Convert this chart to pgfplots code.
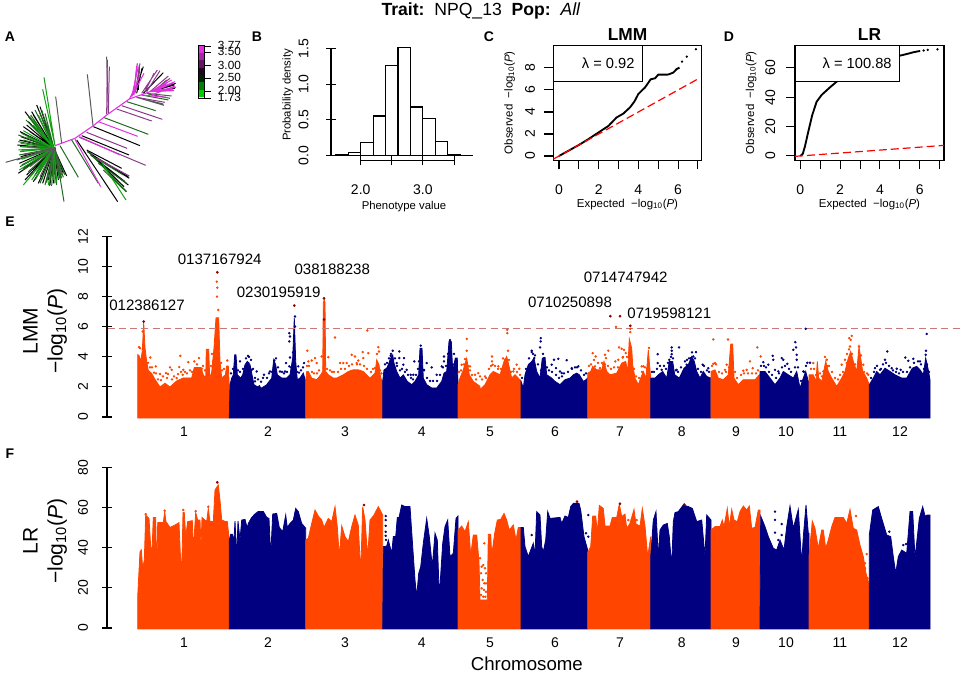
\documentclass[border=0pt]{standalone}
\usepackage{fontspec}
\setmainfont{Liberation Sans}
\usepackage{pgfplots}
\pgfplotsset{compat=1.18}
\definecolor{chrA}{HTML}{FF4500}
\definecolor{chrB}{HTML}{000080}
\definecolor{hit}{HTML}{8B0000}
\definecolor{thr}{HTML}{C87878}
\definecolor{tG}{HTML}{1F6B1F}
\definecolor{tL}{HTML}{12A012}
\definecolor{tP}{HTML}{8B3A8B}
\definecolor{tM}{HTML}{E030E0}
\newcommand{\fs}[1]{\fontsize{#1}{#1}\selectfont}
\newcommand{\mlog}{−log\textsubscript{10}(\textit{P})}
\pgfplotsset{
  rbase/.style={
    scale only axis, clip=false,
    /pgf/number format/assume math mode=true,
    tick align=outside, major tick length=6.75pt,
    every tick/.style={black, line width=0.8pt},
    axis line style={black, line width=0.8pt, -},
    every non boxed x axis/.append style={x axis line style=-},
    every non boxed y axis/.append style={y axis line style=-},
    tick label style={font=\fs{10.5pt}},
    yticklabel style={rotate=90, anchor=south},
    ylabel style={font=\fs{8.5pt}, anchor=center},
    xlabel style={font=\fs{8.5pt}, anchor=center},
  },
  qq/.style={rbase,
    width=111.3pt, height=86.25pt,
    axis lines=box, xtick pos=bottom, ytick pos=left,
    xtick={0,...,7}, xticklabels={0,,2,,4,,6,},
    xticklabel shift=8.25pt,
    xlabel={Expected\ \ \mlog}, ylabel={Observed\ \ \mlog},
    xlabel style={font=\fs{8.6pt}, at={(axis description cs:0.5,-0.295)}},
    ylabel style={font=\fs{8.6pt}, at={(axis description cs:-0.226,0.5)}},
    every axis title shift=0pt,
    title style={font=\bfseries\fs{13pt}, at={(axis description cs:0.5,1.09)}, anchor=center},
  },
  manh/.style={rbase,
    width=641.25pt, xmin=107, xmax=962,
    axis lines=left, major tick length=7.5pt,
    x axis line style={draw=none},
    xtick={184,268,345,421.7,490,555,620,681.7,736,786,840,900},
    xticklabels={1,2,3,4,5,6,7,8,9,10,11,12},
    xtick style={draw=none},
    yticklabel shift=7pt,
    ylabel style={font=\fs{15.75pt}, align=center},
  },
  chrO/.style={fill=chrA, draw=chrA, line width=0.6pt},
  chrN/.style={fill=chrB, draw=chrB, line width=0.6pt},
  dotO/.style={only marks, mark=*, mark size=0.7pt, color=chrA},
  dotN/.style={only marks, mark=*, mark size=0.7pt, color=chrB},
  dotH/.style={only marks, mark=*, mark size=0.8pt, color=hit},
  tree/.style={unbounded coords=jump, no marks, line width=0.75pt},
}
\begin{document}
\begin{tikzpicture}[x=0.75pt,y=0.75pt]
\path[use as bounding box] (0,0) rectangle (964,673);

% headings
\node[font=\fs{13.2pt}] at (481,662) {\textbf{Trait:}\ \ NPQ\_13\ \ \textbf{Pop:}\ \ \textit{All}};
\foreach \lab/\lx/\ly in {A/10/636,B/257/636,C/489/636,D/729/636,E/10/451,F/10/219}
  {\node[font=\bfseries\fs{10.5pt}] at (\lx,\ly) {\lab};}

% A: tree and colour key, axis units are 1/3 px
\begin{axis}[at={(0pt,339.75pt)}, anchor=south west, scale only axis, width=195pt, height=165pt,
  hide axis, clip=false, xmin=0, xmax=780, ymin=0, ymax=660, y dir=reverse]
\addplot[tree, color=black] coordinates {
(162,445)(110,315) (nan,nan) (162,445)(95,335) (nan,nan) (162,445)(75,335) (nan,nan) (162,445)(60,395) (nan,nan)
(162,445)(58,420) (nan,nan) (162,445)(62,470) (nan,nan) (162,445)(55,520) (nan,nan) (162,445)(80,525) (nan,nan)
(162,445)(128,550) (nan,nan) (162,445)(150,555) (nan,nan) (162,445)(175,540) (nan,nan) (162,445)(200,528) (nan,nan)
(162,445)(90,395) (nan,nan) (162,445)(120,320) (nan,nan) (162,445)(65,450) (nan,nan) (162,445)(105,525) (nan,nan)
(162,445)(145,540) (nan,nan) (162,445)(80,375) (nan,nan) (280,380)(420,437) (nan,nan) (245,407)(387,465) (nan,nan)
(230,420)(353,605) (nan,nan) (260,450)(365,505) (nan,nan) (262,455)(388,535) (nan,nan) (272,465)(375,545) (nan,nan)
(430,280)(490,218) (nan,nan) (405,275)(430,200) (nan,nan) (460,272)(527,250) (nan,nan)
(162,445)(100,345) (nan,nan) (162,445)(85,365) (nan,nan) (162,445)(70,380) (nan,nan) (162,445)(62,410) (nan,nan)
(162,445)(52,435) (nan,nan) (162,445)(58,490) (nan,nan) (162,445)(68,505) (nan,nan) (162,445)(75,540) (nan,nan)
(162,445)(100,545) (nan,nan) (162,445)(115,550) (nan,nan) (162,445)(160,550) (nan,nan) (162,445)(190,520) (nan,nan)
(285,470)(385,530) (nan,nan) (300,490)(385,555) (nan,nan) (290,480)(372,560) (nan,nan)
(415,270)(418,195) (nan,nan) (410,280)(426,205) (nan,nan) (470,270)(523,255) (nan,nan) (470,275)(525,265)};
\addplot[tree, color=tG] coordinates {
(180,437)(235,532) (nan,nan) (165,440)(192,605) (nan,nan) (162,445)(135,340) (nan,nan) (162,445)(100,360) (nan,nan)
(162,445)(85,350) (nan,nan) (162,445)(55,405) (nan,nan) (162,445)(60,440) (nan,nan) (162,445)(50,480) (nan,nan)
(162,445)(70,510) (nan,nan) (162,445)(90,530) (nan,nan) (162,445)(110,515) (nan,nan) (162,445)(135,555) (nan,nan)
(162,445)(155,558) (nan,nan) (162,445)(190,532) (nan,nan) (162,445)(165,550) (nan,nan) (162,445)(105,330) (nan,nan)
(162,445)(125,540) (nan,nan) (162,445)(178,535) (nan,nan) (162,445)(70,420) (nan,nan) (162,445)(60,500) (nan,nan)
(162,445)(125,330) (nan,nan) (162,445)(140,548) (nan,nan) (310,352)(445,403) (nan,nan) (380,305)(467,332) (nan,nan)
(215,420)(295,550) (nan,nan) (265,455)(380,575) (nan,nan) (425,285)(505,300) (nan,nan)
(162,445)(118,335) (nan,nan) (162,445)(92,345) (nan,nan) (162,445)(78,360) (nan,nan) (162,445)(65,400) (nan,nan)
(162,445)(55,425) (nan,nan) (162,445)(57,465) (nan,nan) (162,445)(65,495) (nan,nan) (162,445)(85,515) (nan,nan)
(162,445)(105,540) (nan,nan) (162,445)(120,550) (nan,nan) (162,445)(148,558) (nan,nan) (162,445)(170,555) (nan,nan)
(162,445)(185,535) (nan,nan) (162,445)(195,525) (nan,nan) (280,470)(370,525) (nan,nan) (295,490)(380,550) (nan,nan)
(310,510)(378,575) (nan,nan) (445,282)(510,295)};
\addplot[tree, color=tL] coordinates {
(165,437)(132,232) (nan,nan) (165,437)(128,268) (nan,nan) (162,445)(100,375) (nan,nan) (162,445)(70,392) (nan,nan)
(162,445)(62,430) (nan,nan) (162,445)(65,478) (nan,nan) (162,445)(70,555) (nan,nan) (162,445)(145,555) (nan,nan)
(162,445)(170,545) (nan,nan) (162,445)(80,410) (nan,nan) (162,445)(60,455) (nan,nan) (162,445)(75,490) (nan,nan)
(162,445)(115,345) (nan,nan) (162,445)(95,540) (nan,nan) (300,480)(378,600) (nan,nan) (162,445)(90,350) (nan,nan)
(162,445)(68,440) (nan,nan) (162,445)(55,450) (nan,nan) (162,445)(58,510) (nan,nan) (162,445)(110,530) (nan,nan) (162,445)(160,540)};
\addplot[tree, color=black!65] coordinates {
(165,445)(17,487) (nan,nan) (185,430)(167,290) (nan,nan) (162,445)(80,440) (nan,nan) (162,445)(70,465) (nan,nan)
(162,445)(90,500) (nan,nan) (162,445)(120,530) (nan,nan) (162,445)(185,525) (nan,nan) (162,445)(150,520) (nan,nan)
(279,377)(262,223) (nan,nan) (325,340)(320,170) (nan,nan) (410,292)(492,316) (nan,nan) (440,280)(515,288) (nan,nan) (410,292)(490,312)};
\addplot[tree, color=tP] coordinates {
(325,340)(328,200) (nan,nan) (350,327)(455,363) (nan,nan) (260,397)(381,445) (nan,nan) (238,412)(437,496) (nan,nan)
(365,317)(487,358) (nan,nan) (400,285)(412,190) (nan,nan) (425,280)(472,210) (nan,nan) (450,275)(505,228) (nan,nan)
(410,292)(495,307) (nan,nan) (320,343)(322,180) (nan,nan) (290,475)(388,528) (nan,nan)
(405,280)(420,190) (nan,nan) (435,275)(462,220) (nan,nan) (440,275)(480,212) (nan,nan) (470,265)(510,235) (nan,nan) (460,275)(500,240)};
\addplot[tree, color=tM] coordinates {
(295,365)(413,409) (nan,nan) (225,418)(302,560) (nan,nan) (238,410)(360,465) (nan,nan) (395,290)(432,220) (nan,nan)
(450,275)(525,245) (nan,nan) (450,275)(528,262) (nan,nan) (450,275)(522,272) (nan,nan) (450,275)(515,240) (nan,nan)
(425,285)(500,292) (nan,nan) (395,290)(415,200) (nan,nan) (402,285)(410,198) (nan,nan) (465,272)(520,250) (nan,nan)
(465,275)(518,268) (nan,nan) (480,265)(505,245) (nan,nan) (455,285)(525,258)};
\addplot[no marks, color=tM, line width=0.8pt] coordinates {(165,437)(225,415)(280,377)(323,343)(388,297)(405,265)(420,225)};
\addplot[no marks, color=tM, line width=0.8pt] coordinates {(388,297)(450,275)};
% colour key
\addplot[fill=tM, draw=none] coordinates {(594,137)(614,137)(614,159)(594,159)} --cycle;
\addplot[fill=black!25!tM, draw=none] coordinates {(594,159)(614,159)(614,181)(594,181)} --cycle;
\addplot[fill=black!55!tM, draw=none] coordinates {(594,181)(614,181)(614,203)(594,203)} --cycle;
\addplot[fill=black!85!tM, draw=none] coordinates {(594,203)(614,203)(614,225)(594,225)} --cycle;
\addplot[fill=black!85!green, draw=none] coordinates {(594,225)(614,225)(614,247)(594,247)} --cycle;
\addplot[fill=black!50!green, draw=none] coordinates {(594,247)(614,247)(614,269)(594,269)} --cycle;
\addplot[fill=black!20!green, draw=none] coordinates {(594,269)(614,269)(614,291)(594,291)} --cycle;
\addplot[draw=black, line width=0.7pt, no marks] coordinates {(594,137)(614,137)(614,294)(594,294)(594,137)};
\addplot[tree, color=black, line width=0.7pt] coordinates {
(614,140)(632,140) (nan,nan) (614,158)(632,158) (nan,nan) (614,197)(632,197) (nan,nan)
(614,236)(632,236) (nan,nan) (614,275)(632,275) (nan,nan) (614,294)(632,294)};
\node[anchor=west, inner sep=0pt, font=\fs{8.85pt}] at (axis cs:653,135) {3.77};
\node[anchor=west, inner sep=0pt, font=\fs{8.85pt}] at (axis cs:653,155) {3.50};
\node[anchor=west, inner sep=0pt, font=\fs{8.85pt}] at (axis cs:653,195) {3.00};
\node[anchor=west, inner sep=0pt, font=\fs{8.85pt}] at (axis cs:653,233) {2.50};
\node[anchor=west, inner sep=0pt, font=\fs{8.85pt}] at (axis cs:653,270) {2.00};
\node[anchor=west, inner sep=0pt, font=\fs{8.85pt}] at (axis cs:653,293) {1.73};
\end{axis}

% B: histogram
\begin{axis}[rbase, at={(270.525pt,387.975pt)}, anchor=south west, width=70pt, height=80.55pt,
  xmin=2, xmax=3.5, ymin=0, ymax=1.5,
  axis lines=left, axis x line shift=3.75pt, axis y line shift=22.3pt,
  major tick length=7pt, xticklabel shift=11.25pt, yticklabel shift=9.75pt,
  xtick={2,2.5,3,3.5}, xticklabels={2.0,,3.0,},
  ytick={0,0.5,1,1.5}, yticklabels={0.0,0.5,1.0,1.5},
  xlabel={Phenotype value}, ylabel={Probability density},
  xlabel style={at={(axis description cs:0.464,-0.478)}},
  ylabel style={at={(axis description cs:-0.782,0.565)}}]
\addplot[ybar interval, fill=white, draw=black, line width=0.85pt] coordinates {
(1.6,0.015) (1.8,0.04) (2.0,0.19) (2.2,0.555) (2.4,1.26) (2.6,1.505) (2.8,0.68) (3.0,0.517)
(3.2,0.196) (3.4,0.01) (3.6,0.005) (3.8,0.005)};
\end{axis}

% C: QQ LMM
\begin{axis}[qq, at={(414.975pt,384.525pt)}, anchor=south west, title={LMM}, yticklabel shift=3.5pt,
  xmin=-0.286, xmax=7.19, ymin=-0.39, ymax=10.06, ytick={0,2,4,6,8}]
\addplot[no marks, black, line width=1.4pt] coordinates {
(0,0)(0.5,0.5)(1,1)(1.5,1.55)(2,2.15)(2.49,2.73)(2.9,3.5)(3.24,3.85)(3.58,4.42)(3.8,4.95)(4,5.64)(4.34,6.24)
(4.62,6.97)(4.84,7.06)(5,7.39)(5.5,7.4)(5.76,7.58)(5.93,7.9)(6.07,8.03)};
\addplot[only marks, mark=*, mark size=0.65pt, black] coordinates {(6.2,8.58)(6.44,9.03)(6.9,9.7)};
\addplot[no marks, red, line width=0.9pt, dash pattern=on 6pt off 3pt] coordinates {(-0.286,-0.286)(7.05,7.05)};
\node[draw=black, line width=0.7pt, fill=white, inner sep=0pt, anchor=north west, minimum width=66.75pt, minimum height=26.8pt]
  at (rel axis cs:0,1) {};
\node[font=\fs{11pt}] at (rel axis cs:0.37,0.84) {λ = 0.92};
\end{axis}

% D: QQ LR
\begin{axis}[qq, at={(596.25pt,384.525pt)}, anchor=south west, width=111.75pt, title={LR}, yticklabel shift=4.5pt,
  xmin=-0.268, xmax=7.22, ymin=-2.95, ymax=75.45, ytick={0,20,40,60}]
\addplot[no marks, black, line width=1.4pt] coordinates {
(0,0)(0.12,1.4)(0.23,6.4)(0.4,16.6)(0.6,28)(0.82,37)(1.07,41.6)(1.49,46.8)(1.83,50.7)(2.5,56)(3.5,62)(4.5,67)
(5.01,68.4)(5.35,69.5)(5.68,70.7)(6.02,71.6)};
\addplot[only marks, mark=*, mark size=0.65pt, black] coordinates {(6.2,71.9)(6.4,72.3)(6.89,72.7)};
\addplot[no marks, red, line width=0.9pt, dash pattern=on 6pt off 3pt] coordinates {(-0.268,-0.268)(7.22,7.22)};
\node[draw=black, line width=0.7pt, fill=white, inner sep=0pt, anchor=north west, minimum width=78pt, minimum height=26.8pt]
  at (rel axis cs:0,1) {};
\node[font=\fs{11pt}] at (rel axis cs:0.417,0.84) {λ = 100.88};
\end{axis}

% E: Manhattan LMM (x is genome position on the plot's scale)
\begin{axis}[manh, at={(80.25pt,192pt)}, anchor=south west, height=135.2pt,
  ymin=0, ymax=12, ytick={0,2,...,12},
  ylabel={LMM\\[3pt]\mlog},
  ylabel style={at={(axis description cs:-0.0725,0.477)}}]
\addplot[chrO] coordinates {(137.7,-0.07)(137.7,4.15)(139,4.1)(140.7,3.7)(142.3,4.4)(143.7,6.3)(145,4.6)(146.7,3.7)(148.3,3.1)(151.7,2.9)(155,2.5)(160,2.0)(165,2.25)(170,2.0)(176.7,2.4)(183.3,2.6)(191.7,2.6)(194.3,3.3)(201,3.3)(203.3,2.8)(205.7,2.6)(206.3,4.5)(208.7,4.5)(209.7,2.6)(211.7,3.0)(214,4.6)(216,6.6)(218.7,6.6)(220,3.7)(221.7,2.6)(225.3,2.8)(226.7,3.4)(228.3,3.4)(229.3,2.0)(229.3,-0.07)} --cycle;
\addplot[chrN] coordinates {(229.3,-0.07)(230,2.15)(231.7,2.59)(233.3,2.81)(234.7,4.14)(236,4.14)(237.3,2.81)(240.7,2.59)(242.7,2.81)(245,3.48)(247.3,3.7)(250,3.48)(252,2.81)(254,2.15)(256.7,2.04)(261.7,1.93)(266.7,2.15)(271.7,2.59)(273.7,3.81)(275.7,3.48)(277.3,2.81)(281.7,2.59)(286.7,2.59)(290,2.81)(292.7,3.92)(294.3,6.58)(295.7,3.7)(297.3,2.48)(300,2.59)(303.3,2.92)(305.7,2.37)(305.7,-0.07)} --cycle;
\addplot[chrO] coordinates {(305.7,-0.07)(305.7,2.37)(306.7,3.03)(308.3,3.03)(311.7,2.59)(316.7,2.48)(320.7,2.81)(322.7,3.03)(323.3,7.6)(324.3,7.8)(325,7.6)(325.7,3.03)(328.3,2.81)(333.3,2.59)(336.7,2.59)(343.3,2.81)(348.3,3.03)(353.3,3.14)(358.3,3.14)(363.3,3.03)(366.7,2.81)(370,2.59)(375,2.92)(376.7,3.81)(379,3.48)(380.7,2.59)(382.7,2.37)(382.7,-0.07)} --cycle;
\addplot[chrN] coordinates {(382.7,-0.07)(382.7,2.37)(384,3.14)(386.7,3.25)(388.3,3.48)(390.7,3.92)(392.7,4.14)(394,3.59)(396.7,3.03)(400,2.59)(403.3,2.81)(407.3,2.37)(411.7,2.15)(415,2.37)(418.7,2.81)(420,4.58)(422,4.58)(423.3,2.59)(426.7,2.15)(431.7,1.93)(436.7,1.93)(441.7,2.37)(444,2.92)(446.7,3.03)(449,5.03)(451.3,5.03)(452.7,3.03)(455.3,3.92)(457.3,3.92)(458,2.15)(458,-0.07)} --cycle;
\addplot[chrO] coordinates {(458,-0.07)(458,2.15)(460,2.59)(463.3,3.14)(466.7,3.92)(469.3,2.81)(473.3,2.37)(480,2.04)(480,1.81)(485,2.15)(490,2.81)(493.3,3.03)(496.7,2.92)(500,2.81)(504,3.7)(506.7,4.03)(508.7,3.48)(511.7,2.59)(515,2.81)(518.3,2.59)(521,2.37)(521,-0.07)} --cycle;
\addplot[chrN] coordinates {(521,-0.07)(521,2.37)(523.3,1.93)(525,2.81)(528.3,3.48)(531.7,3.7)(534,3.92)(536.7,3.03)(540,2.59)(542.3,3.92)(545,3.96)(546.7,2.81)(551.7,2.59)(555,2.37)(560,2.15)(565,2.48)(570,2.59)(573.3,2.81)(576.7,2.92)(579.3,2.81)(583.3,2.37)(586,2.48)(587.7,2.59)(587.7,-0.07)} --cycle;
\addplot[chrO] coordinates {(587.7,-0.07)(587.7,2.92)(590.7,3.03)(592.7,3.37)(596.7,3.14)(601.7,3.14)(604,3.7)(606.7,3.03)(610,2.81)(616.7,2.92)(621.7,3.59)(625.7,3.7)(627.7,3.03)(629.3,5.2)(631.7,4.58)(632.7,3.48)(635,2.59)(638.3,2.15)(640.7,2.59)(643.3,3.03)(646,2.59)(648.3,4.47)(650.7,2.59)(650.7,-0.07)} --cycle;
\addplot[chrN] coordinates {(650.7,-0.07)(650.7,2.59)(655,2.59)(658.3,2.81)(662.7,3.03)(666.7,2.59)(669.3,3.7)(672.7,3.7)(674.7,2.81)(679.3,2.59)(684,3.25)(688.3,3.48)(691.7,4.03)(694.3,3.7)(696.7,3.03)(700,2.59)(703.3,3.03)(706.7,2.7)(710.7,2.59)(710.7,-0.07)} --cycle;
\addplot[chrO] coordinates {(711,-0.07)(711,3.03)(715,3.14)(718.3,2.59)(723.3,2.48)(728.3,2.81)(730.7,4.85)(732.7,4.85)(734,2.59)(738.3,2.15)(743.3,2.48)(750,2.48)(755,2.48)(759.3,2.81)(760,2.59)(760,-0.07)} --cycle;
\addplot[chrN] coordinates {(760,-0.07)(760,3.03)(765,3.03)(770,2.59)(775,2.15)(780,2.59)(783.3,3.03)(788.3,2.81)(793.3,2.59)(796.7,3.03)(800,1.93)(803.3,2.59)(805.7,3.03)(808.3,2.37)(809,2.37)(809,-0.07)} --cycle;
\addplot[chrO] coordinates {(809,-0.07)(809,2.81)(810.7,2.81)(813.3,2.81)(816,2.37)(817.3,3.7)(818.7,2.59)(821.7,2.37)(825.7,3.7)(828.3,3.03)(831.7,2.59)(836.7,2.04)(841.7,2.59)(845,3.03)(848.3,3.92)(850.7,4.36)(853.3,3.7)(856.7,3.03)(859,4.69)(860.7,3.92)(862.7,3.03)(866.7,2.59)(869.3,2.15)(869.3,-0.07)} --cycle;
\addplot[chrN] coordinates {(869.3,-0.07)(869.3,2.15)(873.3,2.59)(876.7,3.03)(880,2.81)(885,3.25)(890,3.03)(895,2.81)(901.7,2.59)(906.7,2.59)(912.3,3.25)(916.7,3.37)(920,3.14)(923.3,2.81)(925.7,3.92)(928.3,3.14)(930,2.48)(930,-0.07)} --cycle;
\addplot[dotO] coordinates {(142.7,5.69)(140,4.58)(139,4.65)(150.3,3.96)(155.7,3.37)(160,2.86)(166,2.92)(170,3.3)(171.7,3.14)(168,2.86)(180.3,4.07)(179.3,3.32)(183.3,3.14)(188.3,3.65)(194.3,3.7)(199,3.92)(201.7,3.21)(227.3,3.76)(176.7,2.59)(182.7,2.81)(216.7,9.01)(217.3,8.61)(217,8.01)(218.3,7.13)
(148,3.6)(150,3.3)(152,3.3)(154,2.95)(156,2.9)(158,2.5)(161,2.45)(163,2.7)(167,2.6)(172,2.5)(174,2.7)(178,2.85)(181,3.0)(185,3.0)(187,2.9)(190,3.1)(192,3.0)(197,3.5)(203,3.4)(205,3.1)(211,3.4)(213,3.7)(212,4.2)(222,3.1)(224,3.2)(221,3.6)
(307.3,4.41)(335,5.29)(367.3,5.76)(328.3,3.98)(321.7,4.03)(315,3.92)(311.7,3.76)(308.3,3.7)(316.7,3.59)(351.7,4.14)(355,4.03)(362.7,4.32)(368.3,4.25)(378.3,4.65)(379,4.36)(340,3.59)(343.3,3.59)(346.7,3.59)(358.3,3.76)(375,3.25)(363.3,3.92)(356.7,3.59)
(307,3.4)(309,3.4)(312,3.0)(314,2.9)(317,2.9)(319,3.1)(327,3.2)(330,3.1)(332,3.0)(334,3)(338,3)(341,3.2)(345,3.2)(349,3.4)(352,3.5)(357,3.5)(360,3.5)(364,3.4)(367,3.2)(371,3.0)(373,3.2)(377,4.2)(380,3.1)(381.5,2.9)
(466.7,5.2)(466.7,4.41)(461.7,3.48)(465,3.85)(470,3.37)(475,2.81)(478.3,2.92)(507.3,5.8)(507.3,5.58)(508,4.41)(492,4.03)(492,3.7)(492.7,3.48)(498.3,3.37)(505,3.81)(503.3,3.25)(516.7,3.48)(519.3,3.21)(513.3,3.03)(485,2.7)(480,2.7)
(459,3.0)(461,3.1)(464,3.5)(468,3.4)(470,3.1)(472,2.8)(476,2.5)(482,2.5)(486,2.6)(489,3.2)(491,3.4)(495,3.4)(498,3.2)(501,3.2)(503,3.9)(509,3.8)(511,3.0)(514,3.2)(517,3.0)(520,2.8)
(616,6.0)(630.3,5.87)(630.3,5.65)(619,4.63)(621.7,4.54)(624,4.47)(625.7,4.25)(622.7,3.96)(618.3,3.81)(615.3,3.7)(608.3,4.41)(605,4.14)(592.7,4.25)(595.7,4.03)(603.3,3.48)(595,3.37)(600,3.25)(643.3,3.37)(641.7,3.37)(606,3.92)
(589,3.4)(591,3.5)(594,3.8)(598,3.6)(602,3.6)(605,3.5)(608,3.4)(611,3.2)(614,3.3)(618,3.3)(623,4.0)(627,4.0)(634,3.2)(636,2.7)(639,2.6)(642,3.0)(645,3.3)(647,3.2)(649,4.6)
(713.3,5.16)(728,5.16)(757.3,4.63)(713.3,3.54)(715,3.59)(726.7,3.48)(725,3.14)(750,3.7)(743.3,3.08)(746.7,3.14)(752.7,3.25)(760.7,4.03)
(712,3.4)(716,3.5)(719,3.0)(722,2.9)(726,3.0)(729,3.3)(735,3.0)(737,2.6)(741,2.8)(744,2.9)(748,2.9)(752,2.9)(756,2.9)(758,3.1)
(850.7,5.14)(851.7,5.4)(849.3,5.25)(850,4.69)(859,4.69)(845,3.81)(846.7,3.59)(841.7,3.48)(863.3,3.48)(813.3,3.59)(826.7,3.81)(827.3,3.37)(868.3,2.81)(823.3,3.03)
(811,3.2)(814,3.2)(816,2.8)(820,2.9)(822,2.7)(825,4.0)(829,3.4)(832,3.0)(835,2.6)(838,2.5)(840,2.8)(843,3.0)(847,4.2)(849,4.5)(852,4.2)(855,3.5)(858,3.5)(861,4.1)(864,3.0)(867,2.9)};
\addplot[dotN] coordinates {(295,6.69)(289.3,5.58)(290,5.36)(289.3,5.03)(295,6.02)(294,5.25)(290,3.96)(289.3,3.37)(286,3.59)(304,3.59)(298.3,3.37)(248,4.07)(251.7,3.14)(256.7,3.03)(248.3,3.59)(264,2.81)(270,3.03)(274.3,3.76)(280,3.03)(285,3.03)(240,3.7)(245,3.03)(255,2.37)(259.3,2.04)
(231,2.9)(233,3.2)(238,3.1)(240,3)(243,3.2)(246,3.9)(249,4.0)(251,3.8)(253,3.2)(255,2.6)(258,2.5)(261,2.35)(263,2.6)(267,2.6)(269,2.9)(272,3.0)(276,3.9)(278,3.3)(282,3.0)(284,2.9)(287,3.0)(291,3.3)(293,4.3)(297,3.0)(299,2.95)(301,3.1)(303,3.3)
(392.7,4.41)(390.7,4.07)(399.3,4.36)(404,3.92)(403.3,3.48)(414.3,3.7)(420.7,4.75)(426.7,3.59)(431.7,3.3)(444,4.03)(444,3.7)(450,5.12)(399.3,3.92)(396.7,3.59)(410.7,2.81)(406.7,3.14)(413.3,2.81)(424,3.14)(436.7,2.81)(441.7,3.37)
(385,3.5)(387,3.6)(389,3.9)(391,4.2)(395,3.9)(397,3.4)(400,3.1)(402,3.2)(405,3.0)(408,2.8)(411,2.6)(413,2.5)(416,2.8)(418,3.2)(419,3.7)(424,3.1)(427,2.6)(430,2.4)(433,2.4)(437,2.4)(440,2.8)(443,3.3)(446,3.4)(448,4.2)(453,3.5)(454,4.2)
(540.7,5.25)(540.7,5.03)(540,4.63)(531.7,4.41)(531.7,4.32)(534.3,3.92)(544.3,3.92)(558.3,3.87)(554,3.81)(566.7,3.78)(556,3.25)(560,3.03)(561.7,2.92)(551.7,3.48)(578.3,3.37)(571.7,3.25)
(522,2.6)(526,3.2)(529,3.9)(533,4.2)(535,4.1)(538,3.5)(541,3.1)(543,4.2)(547,3.3)(549,3.1)(552,3.0)(556,2.8)(559,2.6)(562,2.7)(564,2.9)(568,3.0)(572,3.2)(575,3.3)(577,3.3)(581,3.1)(584,2.8)(586,2.9)
(671.7,4.63)(671.7,4.41)(671.7,4.18)(679,4.63)(657.7,4.18)(657.7,3.59)(669.3,3.81)(696,4.32)(690.7,3.92)(693.3,4.03)(661.7,3.14)(686.7,3.48)(676.7,3.14)(702.7,3.48)(708.3,3.25)
(652,3)(654,3)(657,3.2)(660,3.4)(664,3.4)(666,3.2)(668,3.6)(671,4.0)(673,3.9)(676,3.1)(678,3.0)(681,3.3)(685,3.7)(687,3.8)(689,3.9)(692,4.3)(695,3.9)(698,3.2)(701,3.0)(704,3.4)(707,3.1)(709,3.0)
(805.7,5.87)(795.3,4.98)(796,4.63)(793.3,4.47)(796.7,4.14)(772.7,4.07)(773.3,3.81)(763.3,3.65)(768.3,3.48)(781.7,3.92)(783.3,3.81)(787.3,3.54)(775,3.14)(796.7,3.81)(807.3,3.61)(810,3.61)(803.3,3.03)(784,2.92)(778.3,3.03)
(761,3.4)(764,3.4)(766,3.3)(769,3)(772,2.8)(776,2.6)(779,2.9)(782,3.3)(785,3.4)(789,3.2)(791,3.0)(795,3.3)(798,3.3)(801,2.4)(804,3.0)(806,3.4)
(926.7,5.53)(926,4.41)(925.7,4.14)(887.3,4.36)(885,3.81)(905.3,3.96)(908.3,3.74)(913.3,3.87)(920,3.7)(875,3.25)(880,3.14)(891.7,3.25)(896.7,3.21)(900.7,3.14)
(871,2.6)(874,3.0)(877,3.4)(881,3.2)(883,3.5)(886,3.6)(889,3.4)(893,3.1)(896,3.0)(899,2.9)(903,3.0)(907,3.0)(910,3.3)(914,3.6)(918,3.7)(921,3.5)(924,3.2)(927,3.5)(929,3.0)};
\addplot[dotH] coordinates {(143.7,6.35)(217.3,9.63)(294.3,7.42)(324,7.9)(324,6.49)(610.3,6.71)(620,6.71)(630.3,6.07)};
\addplot[no marks, color=thr, line width=0.9pt, dash pattern=on 5.25pt off 3.2pt] coordinates {(107.5,5.87)(961,5.87)};
\node[font=\fs{11.3pt}] at (axis cs:147,7.42) {012386127};
\node[font=\fs{11.3pt}] at (axis cs:219.7,10.52) {0137167924};
\node[font=\fs{11.3pt}] at (axis cs:278.7,8.3) {0230195919};
\node[font=\fs{11.3pt}] at (axis cs:332.3,9.85) {038188238};
\node[font=\fs{11.3pt}] at (axis cs:570,7.64) {0710250898};
\node[font=\fs{11.3pt}] at (axis cs:625.7,9.3) {0714747942};
\node[font=\fs{11.3pt}] at (axis cs:669.3,6.93) {0719598121};
\end{axis}

% F: Manhattan LR
\begin{axis}[manh, at={(80.25pt,33.75pt)}, anchor=south west, height=120.2pt,
  ymin=0, ymax=80, ytick={0,20,...,80},
  ylabel={LR\\[3pt]\mlog},
  ylabel style={at={(axis description cs:-0.0725,0.543)}},
  xlabel={Chromosome},
  xlabel style={font=\fs{14pt}, at={(axis description cs:0.491,-0.2246)}}]
\addplot[chrO] coordinates {(137.7,-0.5)(137.7,15.6)(138.7,25.6)(140,38)(141.3,39)(142.7,29.8)(144.3,33.9)(145.7,56.4)(149,54.7)(150.7,40.6)(152,38.1)(153.3,55.2)(155.7,55.2)(156.7,24)(157.7,52.6)(163.3,52.6)(164.7,58)(166,53.1)(170,50.2)(175,51.4)(179,52.6)(180.3,37.3)(181.7,27.3)(183,57.6)(184.3,57.6)(185.7,45.6)(187.7,53.1)(192.3,53.6)(193.3,38.9)(195.7,57.6)(197.7,53.9)(200,53.9)(201,40.6)(202,55.2)(206.7,53.1)(208.3,59.7)(210,53.1)(213.3,53.1)(215,68.9)(218.3,71.4)(220,63.9)(221.7,53.9)(225.7,53.1)(227.3,53.1)(229.3,43.9)(229.3,-0.5)} --cycle;
\addplot[chrN] coordinates {(229.3,-0.5)(229.3,43.9)(230.7,46.8)(232.3,46.8)(234,43.9)(235,53.4)(236.7,35.6)(238,53.4)(240,43.9)(241.7,53.9)(245,54.2)(247.3,49.8)(248.3,52.2)(251.7,55.2)(255,56.9)(258.3,58.2)(263.3,58.2)(266.7,55.2)(269,54.7)(270.7,35.6)(272.7,56.9)(276.7,57.2)(279.3,50.2)(282.7,48.1)(285.7,56.4)(287.3,50.2)(290,52.2)(293.3,53.9)(295.7,59.7)(298.3,58.1)(301.7,52.2)(305.7,49.8)(305.7,-0.5)} --cycle;
\addplot[chrO] coordinates {(305.7,-0.5)(305.7,43.9)(308.3,44.8)(311.7,52.2)(315,58.9)(318.3,55.9)(321.7,53.9)(324,50.2)(328.3,54.7)(331.7,53.1)(335,60.6)(337.3,50.6)(339.3,35.6)(341.7,51)(345,45.6)(348.3,43.1)(351.7,50.6)(355,56.4)(358.3,51.4)(360.7,27.3)(362.7,60.6)(365,53.9)(367.7,35.6)(370,53.9)(374,56.4)(378.3,60.6)(382.7,56.4)(382.7,-0.5)} --cycle;
\addplot[chrN] coordinates {(382.7,-0.5)(383.3,40.6)(386.7,40.9)(388.3,43.9)(391.7,37.3)(393.3,45.6)(395.7,45.6)(397.3,55.1)(399,55.1)(401.7,61.4)(405,60.6)(410,60.6)(412.7,40.6)(415,24)(416.7,15.6)(418.7,27.3)(420.7,30.6)(423.3,42.3)(426.7,54.7)(429.3,45.6)(432.3,30.6)(435,47.3)(437.3,43.9)(439.3,15.6)(442.7,42.3)(445,50.6)(447.7,53.9)(450,35.6)(453.3,37.3)(456,54.7)(458,55.9)(458,-0.5)} --cycle;
\addplot[chrO] coordinates {(458,-0.5)(458,48.9)(461.7,50.9)(465,48.1)(468.3,53.1)(470.7,36.4)(473.3,46.4)(476.7,46.4)(479,33.1)(480,14)(487.3,14)(488.3,46.8)(490.7,46.8)(491.7,36.4)(494.7,47.3)(497.3,53.9)(500.7,54.2)(504,57.2)(506.7,53.9)(509.3,48.9)(513.3,51.4)(516,43.9)(518.3,50.2)(521,50.2)(521,-0.5)} --cycle;
\addplot[chrN] coordinates {(521,-0.5)(521,50.2)(523.3,50.2)(525,40.6)(528.3,35.6)(530.7,38.9)(533.3,42.3)(535,36.4)(536.7,58.1)(540,56.4)(541.7,40.6)(543.3,38.1)(545.7,43.9)(547.7,58.1)(550,54.7)(560,55.2)(561.7,52.2)(565,55.9)(568.3,55.2)(570.7,60.6)(573.3,62.2)(579,62.2)(580.7,58.9)(584,45.6)(587.7,38.9)(587.7,-0.5)} --cycle;
\addplot[chrO] coordinates {(587.7,-0.5)(587.7,37.6)(590.7,40.6)(592.7,55.9)(595.7,55.9)(597.3,47.3)(599.3,61.2)(603.3,59.7)(605,50.9)(610,50.9)(612.3,55.2)(616.7,55.2)(619.3,61.9)(621.7,55.6)(625,56.9)(626.7,49.8)(630,52.2)(634,59.2)(636,51.9)(640,50.9)(642.3,59.7)(645,50.9)(647.7,35.6)(650.7,45.6)(650.7,-0.5)} --cycle;
\addplot[chrN] coordinates {(650.7,-0.5)(650.7,35.6)(653.3,53.9)(656,58.1)(658.3,35.6)(660,48.9)(663.3,51.4)(667.3,52.2)(669.3,45.6)(671.7,30.6)(673.3,53.1)(675,57.6)(678.3,58.1)(683.3,61.4)(688.3,60.6)(692.3,59.7)(696.7,53.1)(701.7,53.9)(705,35.6)(706.7,56.4)(711,53.9)(711,-0.5)} --cycle;
\addplot[chrO] coordinates {(711,-0.5)(711,48.9)(715,50.6)(720,50.6)(722.3,53.9)(724,50.6)(727.3,59.7)(729.3,50.6)(731.7,59.2)(734,53.9)(737.3,53.1)(740,58.1)(743.3,60.9)(746.7,58.9)(749.3,60.9)(751.7,49.8)(755,50.2)(758.3,58.9)(760,58.9)(760,-0.5)} --cycle;
\addplot[chrN] coordinates {(760,-0.5)(760.7,55.9)(765,50.6)(768.3,45.6)(773.3,39.8)(776.7,38.9)(780,43.9)(784,38.9)(786.7,50.6)(790,60.9)(793.3,49.8)(798.3,59.2)(801.7,32.3)(803.3,45.6)(806,61.4)(808.3,47.3)(809,47.3)(809,-0.5)} --cycle;
\addplot[chrO] coordinates {(809,-0.5)(809,35.6)(812.3,53.4)(815,49.8)(818.3,39.8)(821.7,48.9)(823.3,48.9)(825.7,39.8)(828.3,43.9)(831.7,50.6)(835,55.2)(843.3,55.2)(846.7,52.2)(850,59.2)(853.3,49.8)(856.7,48.9)(860,41.4)(863.3,35.6)(866,27.3)(869.3,21.5)(869.3,-0.5)} --cycle;
\addplot[chrN] coordinates {(869.3,-0.5)(869.3,46.4)(872.7,58.9)(878.3,60.6)(881.7,54.7)(886.7,46.4)(890.7,45.6)(893.3,35.6)(895.7,27.3)(898.3,35.6)(901.7,38.9)(906.7,37.3)(910,58.1)(912.7,58.1)(915,34.8)(919.3,54.7)(922.7,60.6)(925,55.9)(927.3,56.4)(930,56.4)(930,-0.5)} --cycle;
\addplot[dotO] coordinates {(145.7,56.8)(164.7,58.5)(183.3,58.9)(195.7,58.3)(208.3,60.5)(480,34.8)(481.7,30.6)(483.3,31.4)(485,29.8)(486,27.3)(481,27.3)(482.7,24)(484.3,22.3)(486,22.3)(481.7,19.8)(484,19)(486,18.1)(481,16.5)(483.3,15.6)(485.3,15.6)(484.3,42.3)(628.3,53.9)(636.7,53.9)(631.7,53.9)(856,55.9)(866.7,36.9)(865,32.3)(865,29.8)(867.7,24.8)};
\addplot[dotN] coordinates {(385.7,55.9)(385.7,53.9)(385.7,51)(385.7,48)(385.7,46)(386,44)(588.3,56.4)(586,47.3)(588.3,45.6)(531.7,46.4)(700,28.1)(701.7,17.3)(703.3,22.3)(775,58.1)(775,54)(781.7,51.9)(781.7,46.4)(778.3,43.9)(775,47.6)(889.3,48.1)(903.3,41.4)(906,41.9)};
\addplot[dotH] coordinates {(217.3,72.7)(364,61.4)(577,63.1)(620,62)(684.3,61.6)};
\end{axis}
\end{tikzpicture}
\end{document}
